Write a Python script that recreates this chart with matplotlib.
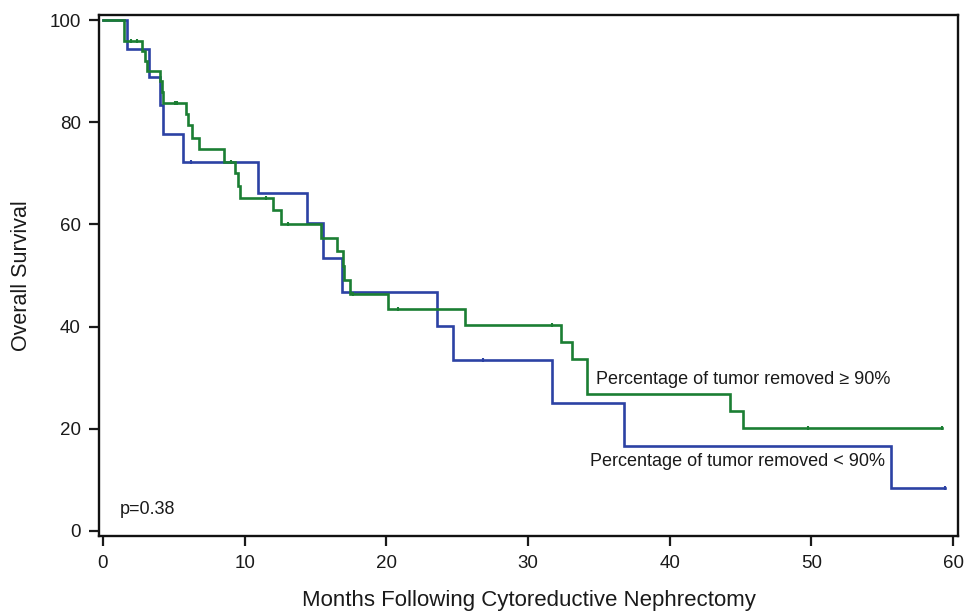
import numpy as np
import matplotlib
matplotlib.use("Agg")
import matplotlib.pyplot as plt

plt.rcParams['font.family'] = ['Liberation Sans', 'DejaVu Sans']

# Kaplan-Meier step data (months, overall survival %)
green_t = [0, 1.45, 1.50, 2.73, 2.97, 3.10, 4.02, 4.15, 4.27, 5.86, 5.97, 6.26, 6.80,
           8.54, 9.32, 9.55, 9.67, 11.97, 12.54, 15.38, 16.54, 16.96, 17.00, 17.45,
           20.13, 25.55, 32.30, 33.07, 34.13, 44.28, 45.17, 59.2]
green_s = [100, 98, 96, 94, 92, 90, 88, 86, 83.8, 81.7, 79.5, 77.0, 74.7,
           72.3, 70.0, 67.5, 65.1, 62.8, 60.0, 57.4, 54.7, 51.9, 49.1, 46.4,
           43.4, 40.3, 36.9, 33.6, 26.8, 23.5, 20.1, 20.1]
green_censor = [2.0, 2.37, 5.08, 5.24, 9.01, 11.5, 13.08, 17.66, 20.84, 31.66, 49.73, 59.2]

blue_t = [0, 1.67, 3.27, 4.05, 4.26, 5.62, 10.96, 14.37, 15.55, 16.9, 23.55, 24.7,
          31.66, 36.8, 55.6, 59.4]
blue_s = [100, 94.4, 88.9, 83.3, 77.8, 72.2, 66.2, 60.2, 53.5, 46.8, 40.1, 33.4,
          25.1, 16.7, 8.4, 8.4]
blue_censor = [6.19, 26.8, 59.4]

x_ticks = [0, 10, 20, 30, 40, 50, 60]
y_ticks = [0, 20, 40, 60, 80, 100]

label_ge = "Percentage of tumor removed \u2265 90%"
label_lt = "Percentage of tumor removed < 90%"
p_text = "p=0.38"

GREEN = "#1b7e33"
BLUE = "#2c42a4"


def censor_y(t_arr, s_arr, cens):
    t_arr = np.asarray(t_arr)
    s_arr = np.asarray(s_arr)
    idx = np.searchsorted(t_arr, cens, side='right') - 1
    return s_arr[idx]


fig = plt.figure(figsize=(9.67, 6.15), dpi=100)
ax = fig.add_axes([0.1024, 0.1285, 0.8883, 0.8471])

ax.step(blue_t, blue_s, where='post', color=BLUE, lw=1.9, solid_joinstyle='miter')
ax.step(green_t, green_s, where='post', color=GREEN, lw=1.9, solid_joinstyle='miter')
ax.plot(blue_censor, censor_y(blue_t, blue_s, blue_censor), ls='none', marker='|',
        ms=3, mew=1.5, color=BLUE)
ax.plot(green_censor, censor_y(green_t, green_s, green_censor), ls='none', marker='|',
        ms=3, mew=1.5, color=GREEN)

ax.set_xlim(-0.28, 60.35)
ax.set_ylim(-1.0, 101.0)
ax.set_xticks(x_ticks)
ax.set_yticks(y_ticks)
ax.tick_params(axis='both', direction='out', length=7, width=1.6, labelsize=13.5,
               colors='#1a1a1a')
ax.tick_params(axis='x', pad=7)
ax.tick_params(axis='y', pad=6)
for sp in ax.spines.values():
    sp.set_linewidth(1.7)
    sp.set_color('#111111')

ax.set_xlabel("Months Following Cytoreductive Nephrectomy", fontsize=16, labelpad=13,
              color='#1a1a1a')
ax.set_ylabel("Overall Survival", fontsize=15.5, labelpad=13, color='#1a1a1a')

ax.text(34.8, 29.7, label_ge, fontsize=13, va='center', ha='left', color='#1a1a1a')
ax.text(34.4, 13.5, label_lt, fontsize=13, va='center', ha='left', color='#1a1a1a')
ax.text(1.2, 4.1, p_text, fontsize=13, va='center', ha='left', color='#1a1a1a')

fig.savefig("out.png", dpi=100)
